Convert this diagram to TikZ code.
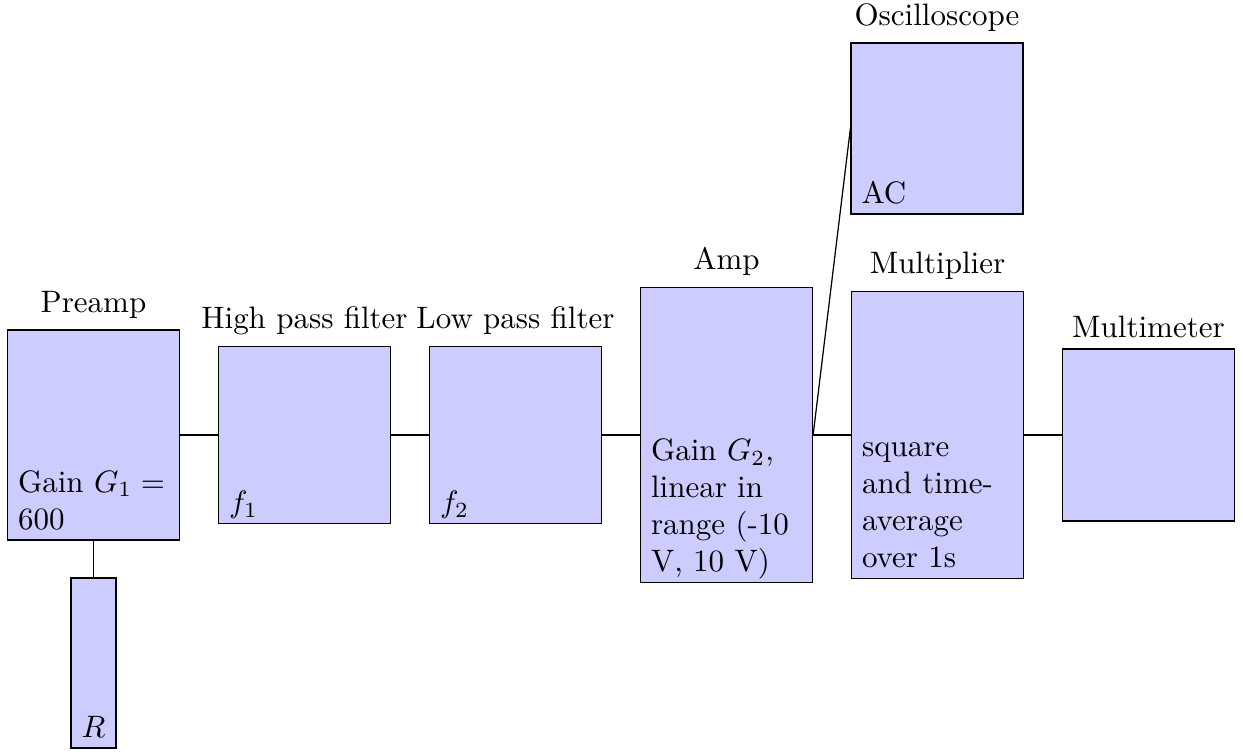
\documentclass[tikz,border=0pt]{standalone}
\begin{document}
\def\px{0.3226pt}
\begin{tikzpicture}[x=0.3226pt,y=-0.3226pt,
  blk/.style={draw=black, fill=blue!20, inner sep=0pt},
  inner/.style={anchor=south west, align=left, inner sep=3.4pt, text depth=0pt},
  ttl/.style={anchor=south, inner sep=3.33pt},
  wire/.style={draw=black}]
\useasboundingbox (0,0) rectangle (1243,754);
% boxes
\node[blk, minimum width=172*\px, minimum height=210*\px] (preamp) at (93.5,435) {};
\node[blk, minimum width=45*\px, minimum height=170*\px] (res) at (93.5,663) {};
\node[blk, minimum width=172*\px, minimum height=177*\px] (hpf) at (304.5,435) {};
\node[blk, minimum width=172*\px, minimum height=177*\px] (lpf) at (515.5,435) {};
\node[blk, minimum width=172*\px, minimum height=295*\px] (amp) at (726.5,435) {};
\node[blk, minimum width=172*\px, minimum height=171*\px] (osc) at (937,128.5) {};
\node[blk, minimum width=172*\px, minimum height=287*\px] (mult) at (937.5,435) {};
\node[blk, minimum width=172*\px, minimum height=172*\px] (meter) at (1148.5,435) {};
% titles
\node[ttl] (preampL) at (preamp.north) {Preamp};
\node[ttl] (hpfL) at (hpf.north) {High pass filter};
\node[ttl] (lpfL) at (lpf.north) {Low pass filter};
\node[ttl] (ampL) at (amp.north) {Amp};
\node[ttl] (oscL) at (osc.north) {Oscilloscope};
\node[ttl] (multL) at (mult.north) {Multiplier};
\node[ttl] (meterL) at (meter.north) {Multimeter};
% inner texts
\node[inner] (preampT) at (preamp.south west) {Gain $G_1 =$\\600};
\node[inner] (resT) at (res.south west) {$R$};
\node[inner] (hpfT) at (hpf.south west) {$f_1$};
\node[inner] (lpfT) at (lpf.south west) {$f_2$};
\node[inner] (ampT) at (amp.south west) {Gain $G_2$,\\linear in\\range (-10\\V, 10 V)};
\node[inner] (oscT) at (osc.south west) {AC};
\node[inner] (multT) at (mult.south west) {square\\and time-\\average\\over 1s};
% wires
\draw[wire] (preamp.east) -- (hpf.west);
\draw[wire] (hpf.east) -- (lpf.west);
\draw[wire] (lpf.east) -- (amp.west);
\draw[wire] (amp.east) -- (mult.west);
\draw[wire] (amp.east) -- (osc.west);
\draw[wire] (mult.east) -- (meter.west);
\draw[wire] (preamp.south) -- (res.north);
\end{tikzpicture}
\end{document}
